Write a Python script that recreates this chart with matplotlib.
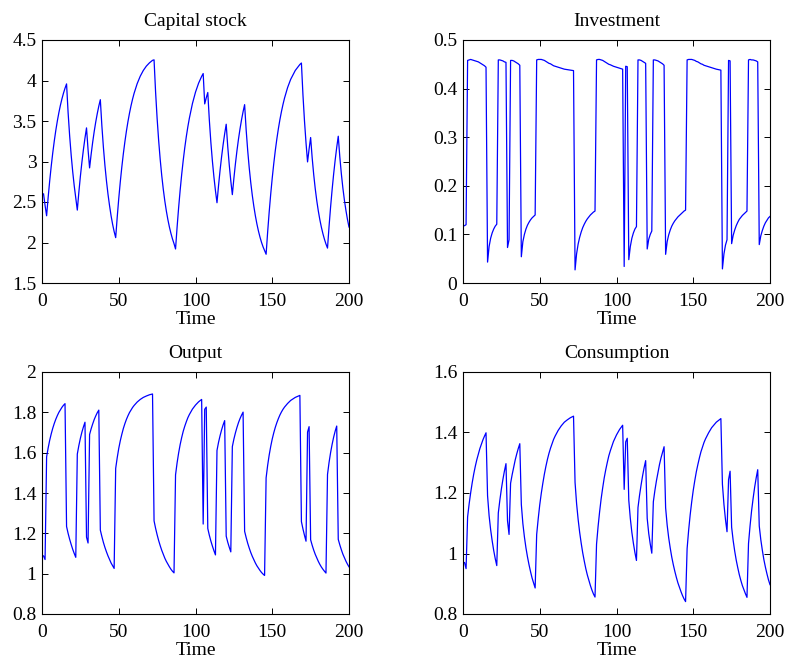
import matplotlib
matplotlib.use("Agg")
import matplotlib.pyplot as plt
from matplotlib.ticker import FuncFormatter

# ---- data (one line per regime segment) ----
time = [1, 2,
        3, 4, 5, 6, 7, 8, 9, 10, 11, 12, 13, 14, 15,
        16, 17, 18, 19, 20, 21, 22,
        23, 24, 25, 26, 27, 28,
        29, 30,
        31, 32, 33, 34, 35, 36, 37,
        38, 39, 40, 41, 42, 43, 44, 45, 46, 47,
        48, 49, 50, 51, 52, 53, 54, 55, 56, 57, 58, 59, 60, 62, 64, 66, 68, 70, 72,
        73, 74, 75, 76, 77, 78, 79, 80, 81, 82, 83, 84, 85, 86,
        87, 88, 89, 90, 91, 92, 93, 94, 95, 96, 98, 100, 102, 104,
        105,
        106, 107,
        108, 109, 110, 111, 112, 113,
        114, 115, 116, 117, 118, 119,
        120, 121, 122, 123,
        124, 125, 126, 127, 128, 129, 130, 131,
        132, 133, 134, 135, 136, 137, 138, 139, 140, 141, 142, 143, 144, 145,
        146, 147, 148, 149, 150, 151, 152, 153, 154, 155, 156, 157, 158, 160, 162, 165, 168,
        169, 170, 171, 172,
        173, 174,
        175, 176, 177, 178, 179, 180, 181, 182, 183, 184, 185,
        186, 187, 188, 189, 190, 191, 192,
        193, 194, 195, 196, 197, 198, 199, 200]

capital = [2.600, 2.458,
           2.330, 2.555, 2.758, 2.941, 3.106, 3.253, 3.385, 3.501, 3.604, 3.695, 3.774, 3.844, 3.905,
           3.958, 3.605, 3.320, 3.080, 2.875, 2.699, 2.546,
           2.400, 2.619, 2.816, 2.992, 3.150, 3.290,
           3.415, 3.147,
           2.921, 3.087, 3.236, 3.369, 3.487, 3.591, 3.683,
           3.763, 3.441, 3.175, 2.950, 2.760, 2.595, 2.455, 2.330, 2.225, 2.135,
           2.060, 2.313, 2.542, 2.748, 2.932, 3.097, 3.244, 3.376, 3.493, 3.597, 3.689, 3.770,
           3.842, 3.961, 4.053, 4.124, 4.178, 4.218, 4.249,
           4.255, 3.857, 3.531, 3.258, 3.026, 2.828, 2.659, 2.514, 2.390, 2.283, 2.191, 2.112,
           2.044, 1.986,
           1.920, 2.187, 2.428, 2.645, 2.840, 3.014, 3.169, 3.306, 3.427, 3.534, 3.715, 3.856,
           3.966, 4.051,
           4.086,
           3.711, 3.786,
           3.852, 3.515, 3.239, 3.007, 2.809, 2.639,
           2.491, 2.701, 2.890, 3.059, 3.209, 3.342,
           3.460, 3.184, 2.956, 2.760,
           2.591, 2.791, 2.971, 3.132, 3.276, 3.403, 3.516, 3.615,
           3.702, 3.391, 3.137, 2.922, 2.739, 2.582, 2.447, 2.330, 2.229, 2.142, 2.067, 2.002,
           1.947, 1.900,
           1.855, 2.129, 2.376, 2.598, 2.798, 2.977, 3.137, 3.279, 3.406, 3.518, 3.617, 3.705,
           3.783, 3.913, 4.014, 4.124, 4.198,
           4.216, 3.823, 3.501, 3.229,
           2.995, 3.154,
           3.296, 3.047, 2.840, 2.665, 2.517, 2.390, 2.282, 2.189, 2.109, 2.040, 1.981,
           1.931, 2.197, 2.437, 2.652, 2.846, 3.019, 3.174,
           3.312, 3.060, 2.851, 2.674, 2.524, 2.396, 2.285, 2.191]

investment = [0.118, 0.120,
              0.458, 0.459, 0.460, 0.459, 0.458, 0.457, 0.456, 0.455, 0.453, 0.451, 0.449, 0.447, 0.444,
              0.043, 0.075, 0.092, 0.103, 0.111, 0.117, 0.121,
              0.459, 0.459, 0.458, 0.457, 0.455, 0.454,
              0.073, 0.089,
              0.458, 0.458, 0.457, 0.455, 0.453, 0.451, 0.448,
              0.054, 0.085, 0.100, 0.111, 0.119, 0.125, 0.130, 0.134, 0.137, 0.140,
              0.459, 0.460, 0.460, 0.460, 0.459, 0.458, 0.456, 0.454, 0.452, 0.451, 0.449, 0.447,
              0.446, 0.444, 0.442, 0.440, 0.439, 0.438, 0.437,
              0.027, 0.060, 0.080, 0.094, 0.105, 0.114, 0.121, 0.127, 0.132, 0.136, 0.140, 0.143,
              0.146, 0.148,
              0.459, 0.460, 0.460, 0.459, 0.458, 0.456, 0.454, 0.452, 0.450, 0.449, 0.446, 0.444,
              0.442, 0.440,
              0.034,
              0.446, 0.445,
              0.048, 0.075, 0.092, 0.103, 0.111, 0.116,
              0.459, 0.459, 0.458, 0.456, 0.454, 0.452,
              0.070, 0.090, 0.100, 0.107,
              0.459, 0.459, 0.458, 0.457, 0.455, 0.453, 0.451, 0.448,
              0.059, 0.085, 0.099, 0.109, 0.117, 0.123, 0.128, 0.132, 0.136, 0.139, 0.142, 0.145,
              0.148, 0.150,
              0.459, 0.460, 0.460, 0.460, 0.459, 0.458, 0.456, 0.455, 0.453, 0.451, 0.450, 0.448,
              0.447, 0.445, 0.443, 0.440, 0.438,
              0.029, 0.060, 0.078, 0.089,
              0.458, 0.457,
              0.081, 0.098, 0.109, 0.118, 0.125, 0.131, 0.135, 0.139, 0.142, 0.145, 0.148,
              0.459, 0.460, 0.459, 0.459, 0.458, 0.457, 0.455,
              0.079, 0.097, 0.108, 0.117, 0.124, 0.129, 0.134, 0.137]

output = [1.088, 1.070,
          1.579, 1.623, 1.661, 1.693, 1.721, 1.745, 1.766, 1.784, 1.800, 1.813, 1.825, 1.835, 1.843,
          1.234, 1.200, 1.171, 1.145, 1.121, 1.100, 1.081,
          1.593, 1.635, 1.671, 1.702, 1.728, 1.751,
          1.181, 1.152,
          1.690, 1.718, 1.742, 1.764, 1.782, 1.798, 1.811,
          1.216, 1.184, 1.155, 1.130, 1.108, 1.088, 1.070, 1.053, 1.039, 1.026,
          1.522, 1.575, 1.621, 1.659, 1.691, 1.720, 1.744, 1.765, 1.783, 1.799, 1.812, 1.824,
          1.834, 1.851, 1.864, 1.874, 1.881, 1.887, 1.891,
          1.262, 1.225, 1.193, 1.164, 1.139, 1.116, 1.096, 1.077, 1.061, 1.047, 1.034, 1.022,
          1.012, 1.004,
          1.490, 1.549, 1.598, 1.640, 1.675, 1.706, 1.731, 1.753, 1.773, 1.789, 1.816, 1.836,
          1.852, 1.864,
          1.246,
          1.815, 1.826,
          1.224, 1.191, 1.162, 1.137, 1.114, 1.093,
          1.611, 1.651, 1.684, 1.713, 1.738, 1.759,
          1.186, 1.156, 1.131, 1.108,
          1.630, 1.667, 1.698, 1.725, 1.749, 1.769, 1.786, 1.801,
          1.210, 1.179, 1.151, 1.127, 1.105, 1.086, 1.069, 1.053, 1.039, 1.027, 1.016, 1.006,
          0.998, 0.991,
          1.475, 1.537, 1.588, 1.631, 1.668, 1.699, 1.726, 1.749, 1.769, 1.787, 1.802, 1.815,
          1.826, 1.844, 1.859, 1.874, 1.884,
          1.258, 1.222, 1.190, 1.161,
          1.702, 1.729,
          1.168, 1.141, 1.117, 1.096, 1.078, 1.061, 1.046, 1.033, 1.022, 1.012, 1.003,
          1.492, 1.551, 1.600, 1.641, 1.677, 1.707, 1.732,
          1.170, 1.143, 1.119, 1.097, 1.079, 1.062, 1.047, 1.034]

consumption = [0.970, 0.950,
               1.121, 1.164, 1.201, 1.234, 1.263, 1.288, 1.310, 1.329, 1.347, 1.362, 1.376, 1.388, 1.399,
               1.191, 1.125, 1.079, 1.042, 1.010, 0.983, 0.960,
               1.134, 1.176, 1.213, 1.245, 1.273, 1.297,
               1.108, 1.063,
               1.232, 1.260, 1.285, 1.309, 1.329, 1.347, 1.363,
               1.162, 1.099, 1.055, 1.019, 0.989, 0.963, 0.940, 0.919, 0.902, 0.886,
               1.063, 1.115, 1.161, 1.199, 1.232, 1.262, 1.288, 1.311, 1.331, 1.348, 1.363, 1.377,
               1.388, 1.407, 1.422, 1.434, 1.442, 1.449, 1.454,
               1.235, 1.165, 1.113, 1.070, 1.034, 1.002, 0.975, 0.950, 0.929, 0.911, 0.894, 0.879,
               0.866, 0.856,
               1.031, 1.089, 1.138, 1.181, 1.217, 1.250, 1.277, 1.301, 1.323, 1.340, 1.370, 1.392,
               1.410, 1.424,
               1.212,
               1.369, 1.381,
               1.176, 1.116, 1.070, 1.034, 1.003, 0.977,
               1.152, 1.192, 1.226, 1.257, 1.284, 1.307,
               1.116, 1.066, 1.031, 1.001,
               1.171, 1.208, 1.240, 1.268, 1.294, 1.316, 1.335, 1.353,
               1.151, 1.094, 1.052, 1.018, 0.988, 0.963, 0.941, 0.921, 0.903, 0.888, 0.874, 0.861,
               0.850, 0.841,
               1.016, 1.077, 1.128, 1.171, 1.209, 1.241, 1.270, 1.294, 1.316, 1.336, 1.352, 1.367,
               1.379, 1.399, 1.416, 1.434, 1.446,
               1.229, 1.162, 1.112, 1.072,
               1.244, 1.272,
               1.087, 1.043, 1.008, 0.978, 0.953, 0.930, 0.911, 0.894, 0.880, 0.867, 0.855,
               1.033, 1.091, 1.141, 1.182, 1.219, 1.250, 1.277,
               1.091, 1.046, 1.011, 0.980, 0.955, 0.933, 0.913, 0.897]

titles = ["Capital stock", "Investment", "Output", "Consumption"]
x_ticks = [0, 50, 100, 150, 200]
y_ticks_capital = [1.5, 2, 2.5, 3, 3.5, 4, 4.5]
y_ticks_investment = [0, 0.1, 0.2, 0.3, 0.4, 0.5]
y_ticks_output = [0.8, 1, 1.2, 1.4, 1.6, 1.8, 2]
y_ticks_consumption = [0.8, 1, 1.2, 1.4, 1.6]

# ---- style ----
plt.rcParams['font.family'] = ['Liberation Serif', 'DejaVu Serif']

W, H = 787, 661
fig = plt.figure(figsize=(W / 100, H / 100), dpi=100)

boxes = [(42, 40, 349, 283), (463, 40, 770, 283),
         (42, 372, 349, 614), (463, 372, 770, 614)]
series = [capital, investment, output, consumption]
yticks = [y_ticks_capital, y_ticks_investment, y_ticks_output, y_ticks_consumption]

fmt = FuncFormatter(lambda v, p: f"{v:g}")

for (l, t, r, b), ys, title, yt in zip(boxes, series, titles, yticks):
    ax = fig.add_axes([l / W, 1 - b / H, (r - l) / W, (b - t) / H])
    ax.plot(time, ys, color=(0, 0, 1), lw=0.9)
    ax.set_xlim(0, 200)
    ax.set_ylim(yt[0], yt[-1])
    ax.set_xticks(x_ticks)
    ax.set_yticks(yt)
    ax.xaxis.set_major_formatter(fmt)
    ax.yaxis.set_major_formatter(fmt)
    ax.tick_params(direction='in', length=4, width=0.7, top=True, right=True,
                   labelsize=14)
    ax.tick_params(axis='x', pad=7)
    ax.tick_params(axis='y', pad=4)
    for s in ax.spines.values():
        s.set_linewidth(0.8)
    ax.set_title(title, fontsize=14, pad=10)
    ax.set_xlabel("Time", fontsize=14, labelpad=1)

fig.savefig("out.png", dpi=100)
